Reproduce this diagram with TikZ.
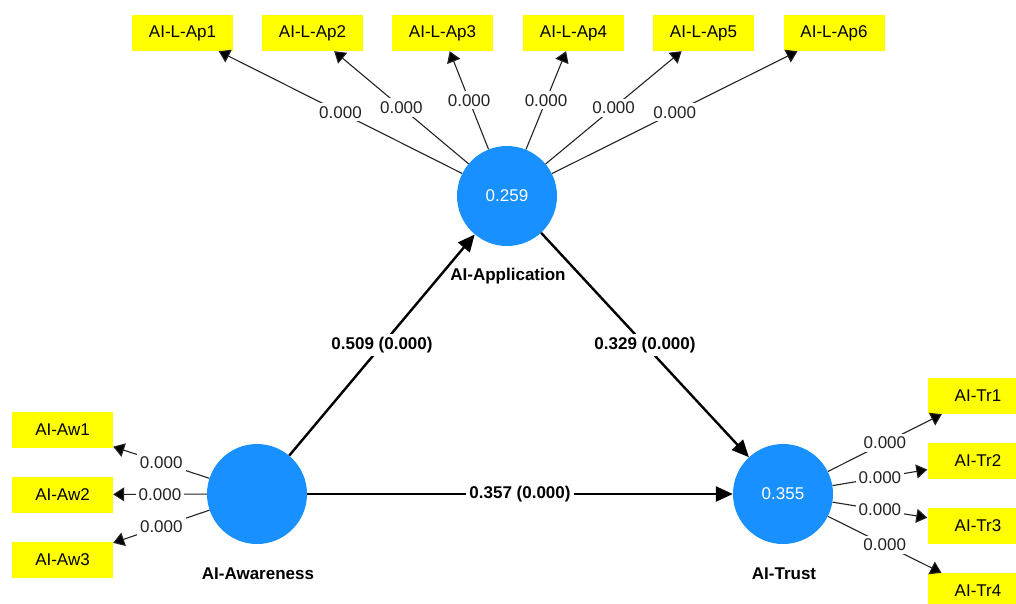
\documentclass[tikz,border=0pt]{standalone}
\usepackage{fontspec}
\setmainfont{Liberation Sans}
\usetikzlibrary{arrows.meta}
\definecolor{lvblue}{RGB}{24,144,255}
\definecolor{indyellow}{RGB}{255,255,0}
\definecolor{labgray}{RGB}{35,35,35}

\begin{document}
\begin{tikzpicture}[x=1pt,y=-1pt,
  txt/.style={font=\fontsize{17}{20}\selectfont},
  latent/.style={circle,fill=lvblue,minimum size=100pt,inner sep=0pt,
    text=white,txt},
  indicator/.style={rectangle,fill=indyellow,minimum width=101pt,
    minimum height=36pt,inner sep=0pt,txt},
  lvname/.style={font=\bfseries\fontsize{17}{20}\selectfont},
  loading/.style={line width=1.1pt,draw=labgray,
    -{Triangle[length=11pt,width=14pt,fill=black]}},
  pathcoef/.style={line width=2.4pt,
    -{Triangle[length=17pt,width=15pt]}},
  loadlab/.style={fill=white,inner sep=3pt,text=labgray,txt},
  pathlab/.style={fill=white,inner sep=3pt,font=\bfseries\fontsize{17}{20}\selectfont}
]
\useasboundingbox (0,0) rectangle (1016,603);

% latent variables
\node[latent] (ap) at (507,196) {0.259};
\node[latent] (aw) at (257,494) {};
\node[latent] (tr) at (783,494) {0.355};

\node[lvname] (apname) at (508,276) {AI-Application};
\node[lvname] (awname) at (258,574) {AI-Awareness};
\node[lvname] (trname) at (784,574) {AI-Trust};

% indicators of AI-Application
\node[indicator] (ap1) at (182.5,33) {AI-L-Ap1};
\node[indicator] (ap2) at (312.5,33) {AI-L-Ap2};
\node[indicator] (ap3) at (442.5,33) {AI-L-Ap3};
\node[indicator] (ap4) at (573.5,33) {AI-L-Ap4};
\node[indicator] (ap5) at (703.5,33) {AI-L-Ap5};
\node[indicator] (ap6) at (834,33) {AI-L-Ap6};

% indicators of AI-Awareness
\node[indicator] (aw1) at (62.5,430) {AI-Aw1};
\node[indicator] (aw2) at (62.5,494.5) {AI-Aw2};
\node[indicator] (aw3) at (62.5,560) {AI-Aw3};

% indicators of AI-Trust
\node[indicator] (tr1) at (978,396) {AI-Tr1};
\node[indicator] (tr2) at (978,461) {AI-Tr2};
\node[indicator] (tr3) at (978,526) {AI-Tr3};
\node[indicator] (tr4) at (978,591) {AI-Tr4};

% outer loadings
\foreach \i in {1,...,6}
  \draw[loading] (ap) -- node[loadlab] {0.000} (ap\i);
\foreach \i in {1,2,3}
  \draw[loading] (aw) -- node[loadlab] {0.000} (aw\i);
\foreach \i in {1,...,4}
  \draw[loading] (tr) -- node[loadlab] {0.000} (tr\i);

% structural paths
\draw[pathcoef] (aw) -- node[pathlab] {0.509 (0.000)} (ap);
\draw[pathcoef] (ap) -- node[pathlab] {0.329 (0.000)} (tr);
\draw[pathcoef] (aw) -- node[pathlab] {0.357 (0.000)} (tr);
\end{tikzpicture}
\end{document}
